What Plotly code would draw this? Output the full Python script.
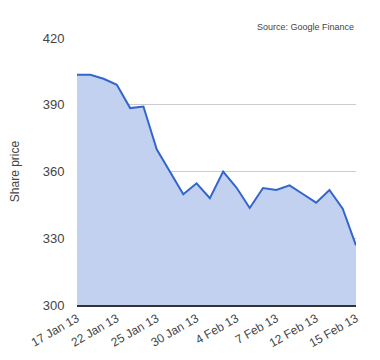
import plotly.graph_objects as go

dates = ["17 Jan 13", "18 Jan 13", "21 Jan 13", "22 Jan 13", "23 Jan 13", "24 Jan 13",
         "25 Jan 13", "28 Jan 13", "29 Jan 13", "30 Jan 13", "31 Jan 13", "1 Feb 13",
         "4 Feb 13", "5 Feb 13", "6 Feb 13", "7 Feb 13", "8 Feb 13", "11 Feb 13",
         "12 Feb 13", "13 Feb 13", "14 Feb 13", "15 Feb 13"]
prices = [403.5, 403.5, 401.7, 399.0, 388.5, 389.2, 370.0, 359.8, 349.8, 354.7, 348.0,
          360.0, 352.8, 343.6, 352.6, 351.7, 353.8, 349.9, 346.0, 351.7, 343.3, 326.8]
tick_labels = ["17 Jan 13", "22 Jan 13", "25 Jan 13", "30 Jan 13", "4 Feb 13",
               "7 Feb 13", "12 Feb 13", "15 Feb 13"]
y_ticks = [300, 330, 360, 390, 420]

fig = go.Figure()
fig.add_trace(go.Scatter(
    x=dates, y=prices, mode="lines", fill="tozeroy",
    line=dict(color="#3366cc", width=2),
    fillcolor="rgba(194,209,240,1)",
    hoverinfo="x+y",
))

fig.update_layout(
    width=372, height=352,
    margin=dict(l=69, r=24, t=30, b=55),
    paper_bgcolor="white", plot_bgcolor="white",
    font=dict(family="Liberation Sans, Arial, sans-serif", size=12, color="#444"),
    showlegend=False,
    xaxis=dict(
        type="category", range=[0, 21], automargin=False,
        tickmode="array", tickvals=tick_labels, ticktext=tick_labels,
        tickangle=-30, showgrid=False, showline=True, linecolor="#333", linewidth=2,
        ticks="", tickfont=dict(size=12, color="#444"),
    ),
    yaxis=dict(
        range=[300, 420], tickvals=y_ticks, showgrid=True, gridcolor="#cccccc",
        zeroline=False, showline=False, automargin=False,
        ticks="outside", ticklen=9, tickcolor="rgba(0,0,0,0)",
        title=dict(text="Share price", font=dict(size=12, color="#444"), standoff=22),
        tickfont=dict(size=13, color="#444"),
    ),
    annotations=[dict(
        text="Source: Google Finance", xref="paper", yref="paper",
        x=1, y=1, xanchor="right", yanchor="bottom", yshift=4, showarrow=False,
        font=dict(size=9, color="#444"),
    )],
)

fig.write_html("out.html")
